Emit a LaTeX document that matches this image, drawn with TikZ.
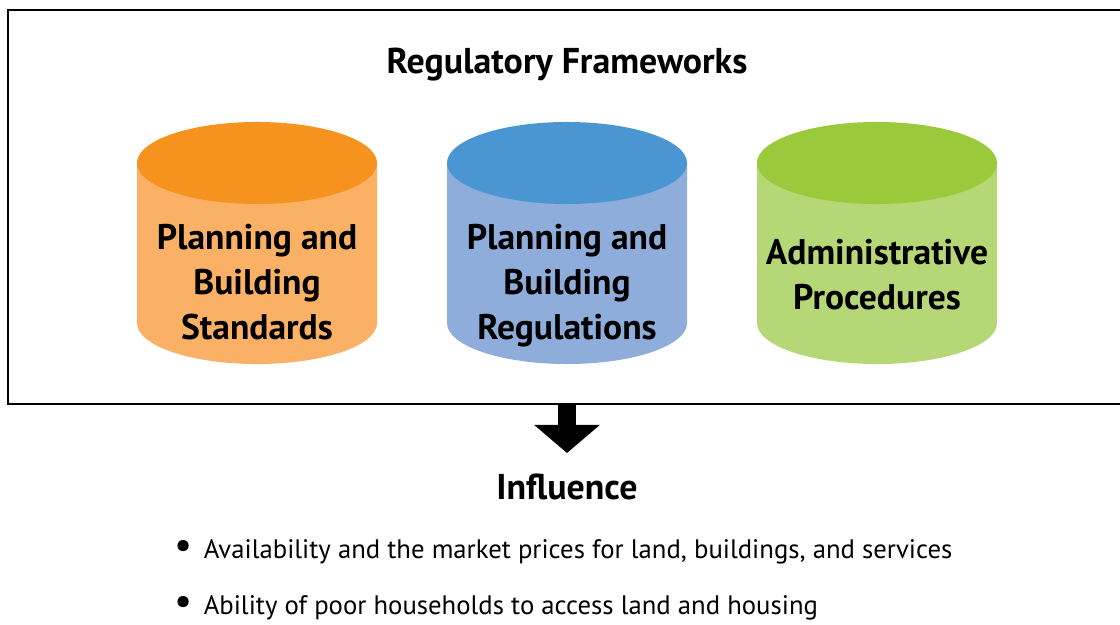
\documentclass[tikz,border=0pt]{standalone}
\usepackage{fontspec}
\setmainfont{PT Sans}
\usetikzlibrary{arrows.meta,positioning}
\definecolor{ortop}{HTML}{F6931F}
\definecolor{orside}{HTML}{FAB166}
\definecolor{bltop}{HTML}{4A96D3}
\definecolor{blside}{HTML}{8EADDB}
\definecolor{grtop}{HTML}{9ACA3C}
\definecolor{grside}{HTML}{B5D776}
\tikzset{
  drumtext/.style={align=center,font=\fontsize{25.3}{32}\selectfont\bfseries},
  head/.style={font=\fontsize{25.5}{28}\selectfont\bfseries},
  item/.style={anchor=west,font=\fontsize{19}{22}\selectfont}
}
\begin{document}
\begin{tikzpicture}[x=0.025cm,y=-0.025cm]
\useasboundingbox (0,0) rectangle (1120,625);
\node[draw,line width=1.2pt,inner sep=0,minimum width=28.05cm,minimum height=9.85cm] (frame) at (569,207) {};
\node[head] (title) at (567,65) {Regulatory Frameworks};
% the three drums
\foreach \cx/\top/\side in {257/ortop/orside,567/bltop/blside,877/grtop/grside}{
  \fill[\side] (\cx-120,163) -- (\cx-120,323) arc[start angle=180,end angle=360,x radius=3cm,y radius=1.025cm] -- (\cx+120,163) -- cycle;
  \fill[\top] (\cx,163) ellipse[x radius=3cm,y radius=1.025cm];
}
\node[drumtext] (std) at (257,282) {Planning and\\Building\\Standards};
\node[drumtext] (reg) at (567,286) {Planning and\\Building\\Regulations};
\node[drumtext] (adm) at (877,275) {Administrative\\Procedures};
\coordinate (tip) at (567,453);
\draw[line width=0.45cm,-{Triangle[length=0.7cm,width=1.6cm]}] (frame.south -| tip) -- (tip);
\node[head] (infl) at (567,487) {Influence};
\node[item] (av) at (170,552) {\makebox[0.72cm][l]{\scalebox{1.5}{•}}Availability and the market prices for land, buildings, and services};
\node[item] (ab) at (170,608) {\makebox[0.72cm][l]{\scalebox{1.5}{•}}Ability of poor households to access land and housing};
\end{tikzpicture}
\end{document}
